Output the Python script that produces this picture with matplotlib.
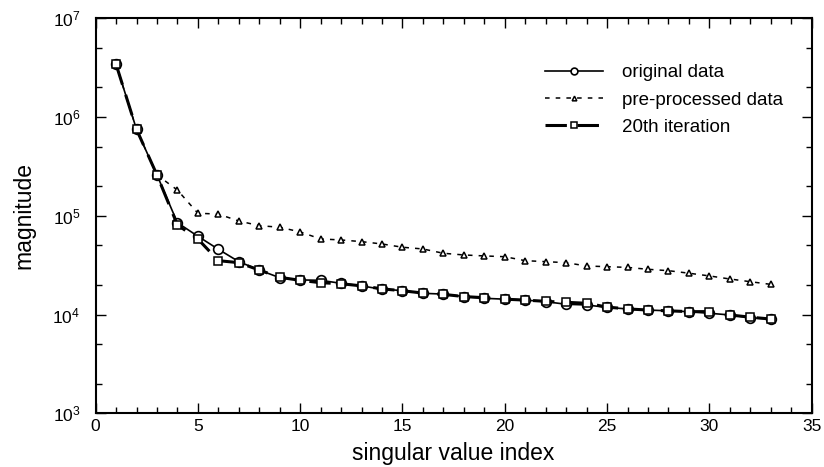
"""Singular value spectrum: original, pre-processed and 20th iteration."""

import matplotlib as mpl
import matplotlib.pyplot as plt
from matplotlib.legend_handler import HandlerLine2D
from matplotlib.ticker import FixedLocator, LogLocator, MultipleLocator, NullFormatter

mpl.rcParams.update(
    {
        "font.family": ["Liberation Sans", "DejaVu Sans"],
        "mathtext.fontset": "custom",
        "mathtext.rm": "Liberation Sans",
        "mathtext.default": "regular",
        "xtick.direction": "in",
        "ytick.direction": "in",
    }
)

index = list(range(1, 34))
original = [
    3.42e6, 7.5e5, 2.59e5, 8.5e4, 6.2e4, 4.58e4, 3.43e4, 2.82e4, 2.36e4, 2.24e4, 2.22e4,
    2.07e4, 1.95e4, 1.80e4, 1.75e4, 1.64e4, 1.61e4, 1.52e4, 1.46e4, 1.43e4, 1.40e4,
    1.35e4, 1.27e4, 1.25e4, 1.18e4, 1.14e4, 1.11e4, 1.09e4, 1.07e4, 1.03e4, 9.9e3,
    9.3e3, 9.0e3,
]
preprocessed = [
    3.42e6, 7.5e5, 2.59e5, 1.82e5, 1.06e5, 1.04e5, 8.85e4, 7.94e4, 7.65e4, 6.86e4, 5.82e4,
    5.69e4, 5.47e4, 5.18e4, 4.80e4, 4.61e4, 4.17e4, 4.01e4, 3.92e4, 3.85e4, 3.51e4,
    3.43e4, 3.35e4, 3.10e4, 3.05e4, 3.0e4, 2.87e4, 2.78e4, 2.62e4, 2.46e4, 2.29e4,
    2.15e4, 2.02e4,
]
iteration20 = [
    3.42e6, 7.5e5, 2.59e5, 8.07e4, 5.82e4, 3.51e4, 3.35e4, 2.82e4, 2.38e4, 2.22e4, 2.10e4,
    2.05e4, 1.95e4, 1.82e4, 1.74e4, 1.65e4, 1.60e4, 1.52e4, 1.48e4, 1.43e4, 1.40e4,
    1.36e4, 1.33e4, 1.30e4, 1.19e4, 1.14e4, 1.11e4, 1.09e4, 1.07e4, 1.07e4, 9.9e3,
    9.4e3, 9.0e3,
]


class EndMarkerHandler(HandlerLine2D):
    # legend sample with the marker at the right end of the line
    def get_xdata(self, legend, xdescent, ydescent, width, height, fontsize):
        xdata, _ = super().get_xdata(legend, xdescent, ydescent, width, height, fontsize)
        return xdata, [xdata[-1]]


fig = plt.figure(figsize=(8.24, 4.67), dpi=100)
ax = fig.add_axes([0.116, 0.115, 0.869, 0.846])

ax.plot(index, original, color="black", linewidth=1.2, marker="o", markersize=7,
        markerfacecolor="white", markeredgewidth=1.2, label="original data", zorder=3)
ax.plot(index, preprocessed, color="black", linewidth=1.1, linestyle=(0, (3, 4)),
        marker="^", markersize=4.8, markerfacecolor="white", markeredgewidth=1.1,
        label="pre-processed data", zorder=2)
ax.plot(index, iteration20, color="black", linewidth=2.2, linestyle=(0, (7, 3.5)),
        marker="s", markersize=5.5, markerfacecolor="white", markeredgewidth=1.1,
        label="20th iteration", zorder=4)

ax.set_yscale("log")
ax.set_xlim(0, 35)
ax.set_ylim(1e3, 1e7)
ax.xaxis.set_major_locator(MultipleLocator(5))
ax.xaxis.set_minor_locator(MultipleLocator(1))
ax.yaxis.set_major_locator(FixedLocator([1e3, 1e4, 1e5, 1e6, 1e7]))
ax.yaxis.set_minor_locator(LogLocator(base=10, subs=(2.0, 5.0)))
ax.yaxis.set_minor_formatter(NullFormatter())
ax.set_yticklabels([r"10$^{%d}$" % p for p in range(3, 8)])

ax.tick_params(which="both", top=True, right=True, labelsize=12.5, width=1.0)
ax.tick_params(which="major", length=7)
ax.tick_params(axis="x", which="major", pad=4)
ax.tick_params(axis="y", which="major", pad=11)
ax.tick_params(which="minor", length=4)
for spine in ax.spines.values():
    spine.set_linewidth(1.5)

ax.set_xlabel("singular value index", fontsize=16.5, labelpad=6)
ax.set_ylabel("magnitude", fontsize=16.5, labelpad=12)

ax.legend(loc="upper left", bbox_to_anchor=(545 / 824, 1 - 64 / 467),
          bbox_transform=fig.transFigure, borderpad=0, borderaxespad=0,
          frameon=False, fontsize=13.5, handlelength=3.1, handletextpad=1.0,
          labelspacing=0.55, markerscale=0.7,
          handler_map={mpl.lines.Line2D: EndMarkerHandler()})

fig.savefig("out.png", dpi=100)
